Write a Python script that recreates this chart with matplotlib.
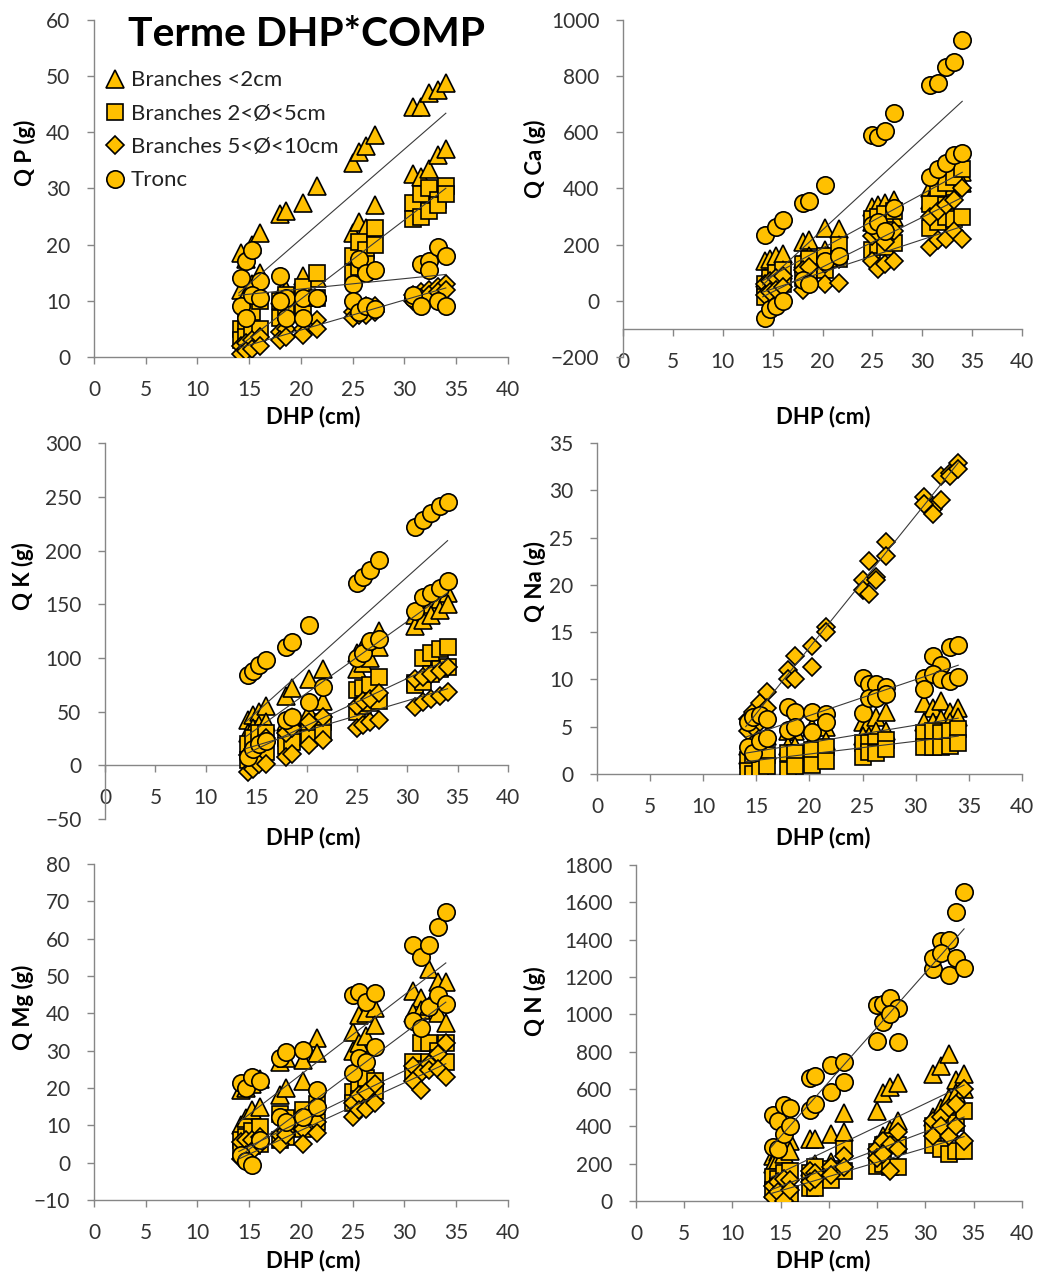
import numpy as np
import matplotlib
matplotlib.use("Agg")
import matplotlib.pyplot as plt

plt.rcParams["font.family"] = ["Lato", "DejaVu Sans"]

# tree diameters (cm), shared by every panel; two values per tree (two COMP levels)
DHP = [14.2, 14.7, 15.3, 16.0, 18.0, 18.6, 20.2, 21.6, 25.0, 25.6, 26.3, 27.2,
       30.8, 31.6, 32.4, 33.2, 34.0]
nan = np.nan

SERIES = ["Branches <2cm", "Branches 2<Ø<5cm", "Branches 5<Ø<10cm", "Tronc"]

# ---- Q P (g)
P_TRI_HI = [18.5, 17.5, 20.0, 22.0, 25.5, 26.0, 27.5, 30.5, 34.5, 36.5, 37.5, 39.5, 44.5, 44.5, 47.0, 47.5, 48.8]
P_TRI_LO = [12.0, 11.0, 13.0, 15.0, 11.0, 12.0, 14.5, 14.0, 22.0, 24.0, 23.0, 27.0, 32.5, 32.0, 33.5, 36.0, 37.0]
P_SQ_HI = [5.0, 6.0, 8.0, 10.0, 10.0, 11.0, 12.5, 15.0, 18.0, 20.5, 19.0, 23.0, 27.5, 29.0, 30.0, 28.0, 30.5]
P_SQ_LO = [3.0, 3.5, 4.5, 5.0, 7.0, 8.0, 9.0, 10.5, 15.0, 16.0, 16.5, 20.0, 24.5, 25.0, 26.0, 27.0, 29.0]
P_DIA_HI = [2.0, 2.5, 3.0, 3.5, 4.5, 5.0, 5.0, 6.5, 8.0, 8.5, 9.0, 9.0, 11.0, 11.5, 12.0, 12.5, 13.0]
P_DIA_LO = [0.5, 1.0, 1.5, 2.0, 3.0, 3.5, 4.0, 5.0, 7.0, 7.5, 7.5, 8.0, 10.0, 10.5, 11.0, 11.5, 12.0]
P_TRONC_HI = [14.0, 17.0, 19.0, 13.5, 14.5, 10.5, 10.5, 10.5, 13.0, 17.5, 15.0, 15.5, 10.5, 16.5, 17.0, 19.5, 18.0]
P_TRONC_LO = [9.0, 7.0, 11.0, 10.5, 10.0, 7.0, 7.0, 10.5, 10.0, 8.0, 9.0, 8.5, 11.0, 9.0, 15.5, 10.0, 9.0]
P_SLOPE = [1.60, 1.41, 0.535, 0.185]
P_INTERCEPT = [-11.0, -17.9, -5.9, 8.4]

# ---- Q Ca (g)
CA_TRI_HI = [140, 150, 160, 165, 210, 215, 260, 255, 335, 340, 350, 360, 400, 420, 440, 450, 460]
CA_TRI_LO = [80, 90, 100, 110, 150, 160, 180, 200, 280, 290, 280, 300, 360, 380, 400, 410, 420]
CA_SQ_HI = [60, 80, 100, 110, 130, 150, 160, 200, 290, 300, 310, 320, 345, 400, 420, 440, 470]
CA_SQ_LO = [15, 30, 50, 60, 80, 100, 110, 150, 180, 200, 190, 205, 260, 280, 300, 290, 300]
CA_DIA_HI = [60, 70, 80, 90, 110, 120, 130, 150, 230, 240, 210, 250, 300, 320, 340, 360, 400]
CA_DIA_LO = [20, 30, 40, 50, 40, 60, 60, 65, 140, 115, 130, 140, 190, 215, 220, 250, 220]
CA_TRONC_HI = [234, nan, 263, 288, 350, 357, 412, nan, 590, 585, 605, 668, 768, 775, 833, 850, 928]
CA_TRONC_LO = [-60, -30, -20, 0, 75, 60, 140, 160, 270, 280, 250, 330, 440, 470, 490, 520, 525]
CA_SLOPE = [19.3, 17.7, 11.7, 32.7]
CA_INTERCEPT = [-198.5, -233.6, -132.8, -401.4]

# ---- Q K (g)
K_TRI_HI = [42, 47, 50, 55, 65, 72, 80, 90, 105, 110, 115, 125, 140, 145, 150, 155, 160]
K_TRI_LO = [30, 35, 38, 40, 40, 45, 50, 60, 90, 95, 100, 110, 130, 135, 140, 145, 150]
K_SQ_HI = [20, 25, 30, 30, 25, 30, 35, 40, 70, 72, 75, 82, 77, 100, 105, 108, 110]
K_SQ_LO = [5, 10, 10, 12, 18, 22, 25, 30, 50, 55, 58, 60, 75, 78, 85, 90, 92]
K_DIA_HI = [10, 15, 20, 25, 30, 35, 40, 45, 55, 60, 62, 67, 80, 82, 85, 88, 92]
K_DIA_LO = [-6, -3, 1, 1, 8, 11, 19, 24, 35, 38, 40, 42, 54, 59, 62, 65, 68]
K_TRONC_HI = [84, 88, 93, 98, 110, 115, 131, nan, 170, 175, 182, 191, 222, 228, 235, 241, 245]
K_TRONC_LO = [8, 15, 20, 23, 42, 45, 59, 73, 100, 105, 116, 118, 144, 157, 160, 165, 172]
K_SLOPE = [6.69, 4.39, 2.78, 8.42]
K_INTERCEPT = [-66.7, -50.8, -23.2, -77.1]

# ---- Q Na (g)
NA_TRI_HI = [3.0, 3.5, 3.5, 4.0, 4.5, 4.5, 5.0, 5.0, 5.5, 5.5, 6.0, 6.5, 7.5, 7.0, 7.7, 6.5, 7.0]
NA_TRI_LO = [2.0, 2.0, 2.5, 2.5, 3.0, 3.0, 3.5, 3.5, 4.0, 4.0, 4.5, 4.5, 5.5, 5.5, 5.8, 5.5, 6.0]
NA_SQ_HI = [1.5, 1.8, 2.0, 2.0, 2.2, 2.2, 2.5, 2.8, 3.3, 3.3, 3.4, 3.6, 4.3, 4.5, 4.3, 4.5, 4.8]
NA_SQ_LO = [0.3, 0.0, 0.5, 0.8, 0.4, 0.8, 0.9, 1.4, 1.8, 2.3, 2.2, 2.6, 2.9, 2.9, 2.9, 3.0, 3.3]
NA_DIA_HI = [5.8, 6.5, 7.5, 8.7, 11.0, 12.5, 11.3, 15.5, 20.5, 22.5, 20.8, 24.5, 29.3, 28.0, 31.5, 31.8, 32.9]
NA_DIA_LO = [4.5, 5.0, 5.5, 7.0, 10.0, 10.0, 13.5, 15.0, 19.5, 19.0, 20.5, 23.0, 28.5, 27.5, 29.0, 31.5, 32.3]
NA_TRONC_HI = [5.5, 6.0, 6.2, 5.8, 7.1, 6.5, 6.5, 6.3, 10.1, 9.5, 9.5, 9.2, 10.1, 12.5, 11.5, 13.4, 13.6]
NA_TRONC_LO = [2.9, 2.2, 3.5, 3.8, 4.6, 5.0, 4.4, 5.5, 6.4, 8.0, 8.0, 8.5, 9.0, 10.6, 10.0, 9.8, 10.2]
NA_SLOPE = [0.185, 0.135, 1.395, 0.38]
NA_INTERCEPT = [-0.39, -0.59, -14.53, -1.42]

# ---- Q Mg (g)
MG_TRI_HI = [19.5, 20.0, 21.0, 22.5, 27.0, 28.0, 27.5, 33.4, 35.0, 39.5, 40.0, 41.3, 46.0, 44.0, 52.0, 48.5, 48.5]
MG_TRI_LO = [10.0, 12.0, 14.0, 15.0, 18.0, 20.0, 22.0, 29.3, 30.0, 32.0, 34.0, 37.0, 40.0, 41.0, 42.0, 40.0, 37.5]
MG_SQ_HI = [6.0, 7.0, 8.5, 9.5, 13.0, 12.0, 14.0, 15.8, 18.8, 20.0, 22.8, 22.0, 27.0, 32.0, 32.0, 30.0, 32.0]
MG_SQ_LO = [3.0, 3.5, 4.5, 5.0, 6.0, 7.0, 9.0, 11.0, 16.0, 17.0, 18.0, 19.2, 24.0, 25.0, 27.0, 28.0, 27.0]
MG_DIA_HI = [5.5, 6.0, 6.0, 7.0, 7.3, 8.5, 9.0, 11.0, 16.0, 18.0, 19.0, 21.0, 26.0, 24.0, 26.5, 29.0, 32.0]
MG_DIA_LO = [1.0, 2.0, 3.0, 5.0, 5.0, 7.3, 5.0, 8.0, 12.3, 14.0, 14.5, 16.0, 22.0, 19.5, 24.8, 25.0, 23.0]
MG_TRONC_HI = [21.3, 20.0, 23.0, 22.0, 28.0, 29.6, 30.2, 19.5, 45.0, 45.6, 43.0, 45.5, 58.3, 55.0, 58.3, 63.2, 67.2]
MG_TRONC_LO = [2.0, 0.5, -0.5, 6.2, 12.3, 11.0, 12.3, 15.0, 24.0, 28.0, 27.0, 31.0, 38.0, 36.0, 41.7, 45.0, 42.5]
MG_SLOPE = [2.135, 1.35, 1.275, 2.075]
MG_INTERCEPT = [-19.09, -15.9, -16.85, -27.55]

# ---- Q N (g)
N_TRI_HI = [240, 260, 300, 320, 330, 330, 360, 470, 480, 580, 610, 630, 680, 725, 790, 650, 680]
N_TRI_LO = [200, 220, 250, 270, 180, 200, 210, 370, 300, 350, 380, 430, 450, 500, 550, 580, 600]
N_SQ_HI = [130, 120, 150, 160, 150, 180, 170, 280, 260, 300, 320, 300, 400, 420, 430, 420, 480]
N_SQ_LO = [60, 80, 100, 40, 70, 70, 110, 160, 190, 200, 180, 180, 300, 280, 250, 270, 270]
N_DIA_HI = [80, 100, 120, 110, 160, 150, 180, 240, 280, 320, 300, 370, 430, 450, 500, 520, 600]
N_DIA_LO = [20, 50, 0, 60, 100, 120, 140, 180, 230, 250, 160, 280, 350, 400, 350, 400, 320]
N_TRONC_HI = [461, 430, 514, 500, 659, 670, 729, 745, 1048, 1057, 1085, 1032, 1243, 1395, 1400, 1550, 1655]
N_TRONC_LO = [291, 280, 357, 400, 489, 520, 586, 640, 857, 960, 1000, 850, 1300, 1330, 1210, 1300, 1250]
N_SLOPE = [24.7, 19.5, 15.25, 58.5]
N_INTERCEPT = [-218.6, -213.0, -173.5, -531.0]

YLABELS = ["Q P (g)", "Q Ca (g)", "Q K (g)", "Q Na (g)", "Q Mg (g)", "Q N (g)"]
YLIMS = [(0, 60), (-200, 1000), (-50, 300), (0, 35), (-10, 80), (0, 1800)]
YSTEPS = [10, 200, 50, 5, 10, 200]
XCROSS = [0, -100, 0, 0, -10, 0]

ORANGE = "#FFC000"
MARKERS = [("^", 12.5), ("s", 11), ("D", 9), ("o", 12.5)]

# axes boxes in figure fraction, and label positions in axes fraction
BOXES = [(0.0906, 0.7198, 0.3992, 0.2645), (0.6008, 0.7198, 0.3848, 0.2645),
         (0.1013, 0.3571, 0.3886, 0.2951), (0.5757, 0.3925, 0.4098, 0.2598),
         (0.0906, 0.0581, 0.3992, 0.2637), (0.6133, 0.0573, 0.3722, 0.2637)]
YLAB_POS = [(-0.167, 0.605), (-0.22, 0.588), (-0.203, 0.646),
            (-0.146, 0.58), (-0.171, 0.574), (-0.262, 0.595)]
XLAB_POS = [(0.529, -0.178), (0.501, -0.178), (0.516, -0.05),
            (0.532, -0.193), (0.529, -0.179), (0.484, -0.176)]

panels = [
    ([P_TRI_HI, P_TRI_LO], [P_SQ_HI, P_SQ_LO], [P_DIA_HI, P_DIA_LO], [P_TRONC_HI, P_TRONC_LO], P_SLOPE, P_INTERCEPT),
    ([CA_TRI_HI, CA_TRI_LO], [CA_SQ_HI, CA_SQ_LO], [CA_DIA_HI, CA_DIA_LO], [CA_TRONC_HI, CA_TRONC_LO], CA_SLOPE, CA_INTERCEPT),
    ([K_TRI_HI, K_TRI_LO], [K_SQ_HI, K_SQ_LO], [K_DIA_HI, K_DIA_LO], [K_TRONC_HI, K_TRONC_LO], K_SLOPE, K_INTERCEPT),
    ([NA_TRI_HI, NA_TRI_LO], [NA_SQ_HI, NA_SQ_LO], [NA_DIA_HI, NA_DIA_LO], [NA_TRONC_HI, NA_TRONC_LO], NA_SLOPE, NA_INTERCEPT),
    ([MG_TRI_HI, MG_TRI_LO], [MG_SQ_HI, MG_SQ_LO], [MG_DIA_HI, MG_DIA_LO], [MG_TRONC_HI, MG_TRONC_LO], MG_SLOPE, MG_INTERCEPT),
    ([N_TRI_HI, N_TRI_LO], [N_SQ_HI, N_SQ_LO], [N_DIA_HI, N_DIA_LO], [N_TRONC_HI, N_TRONC_LO], N_SLOPE, N_INTERCEPT),
]

fig = plt.figure(figsize=(10.37, 12.74), dpi=100)
x = np.array(DHP)
xfit = np.array([x.min() - 0.2, x.max()])

for i, (tri, sq, dia, tronc, slopes, inters) in enumerate(panels):
    ax = fig.add_axes(BOXES[i])
    for s, (groups, (mk, ms)) in enumerate(zip((tri, sq, dia, tronc), MARKERS)):
        xs = np.concatenate([x, x])
        ys = np.concatenate([np.array(g, dtype=float) for g in groups])
        ax.plot(xs, ys, ls="none", marker=mk, ms=ms, mfc=ORANGE, mec="black",
                mew=1.2, label=SERIES[s], zorder=2 + s)
    for s in range(4):
        ax.plot(xfit, slopes[s] * xfit + inters[s], color="#3a3a3a", lw=0.8, zorder=10)

    lo, hi = YLIMS[i]
    ax.set_xlim(0, 40)
    ax.set_ylim(lo, hi)
    ax.set_xticks(np.arange(0, 41, 5))
    ax.set_yticks(np.arange(lo, hi + 1, YSTEPS[i]))
    for side in ("top", "right"):
        ax.spines[side].set_visible(False)
    for side in ("left", "bottom"):
        ax.spines[side].set_color("#868686")
        ax.spines[side].set_linewidth(1.0)
    ax.spines["bottom"].set_position(("data", XCROSS[i]))
    ax.tick_params(axis="x", direction="out", length=5, width=1, color="#868686",
                   pad=11.5, labelsize=15, labelcolor="#333333")
    ax.tick_params(axis="y", direction="out", length=5, width=1, color="#868686",
                   pad=12, labelsize=15, labelcolor="#333333")
    ax.set_xlabel("DHP (cm)", fontsize=16, fontweight="bold", va="center")
    ax.set_ylabel(YLABELS[i], fontsize=16, fontweight="bold", va="center")
    ax.xaxis.set_label_coords(*XLAB_POS[i])
    ax.yaxis.set_label_coords(*YLAB_POS[i])
    ax.patch.set_alpha(0)

    if i == 0:
        ax.legend(loc="upper left", bbox_to_anchor=(0.014, 0.877), frameon=False,
                  fontsize=16, handlelength=0.6, handletextpad=0.4,
                  labelspacing=0.6, borderaxespad=0, labelcolor="#222222")

fig.text(307 / 1037, 1 - 35 / 1274, "Terme DHP*COMP", fontsize=29.5,
         fontweight="bold", ha="center", va="center")

fig.savefig("out.png", dpi=100)
